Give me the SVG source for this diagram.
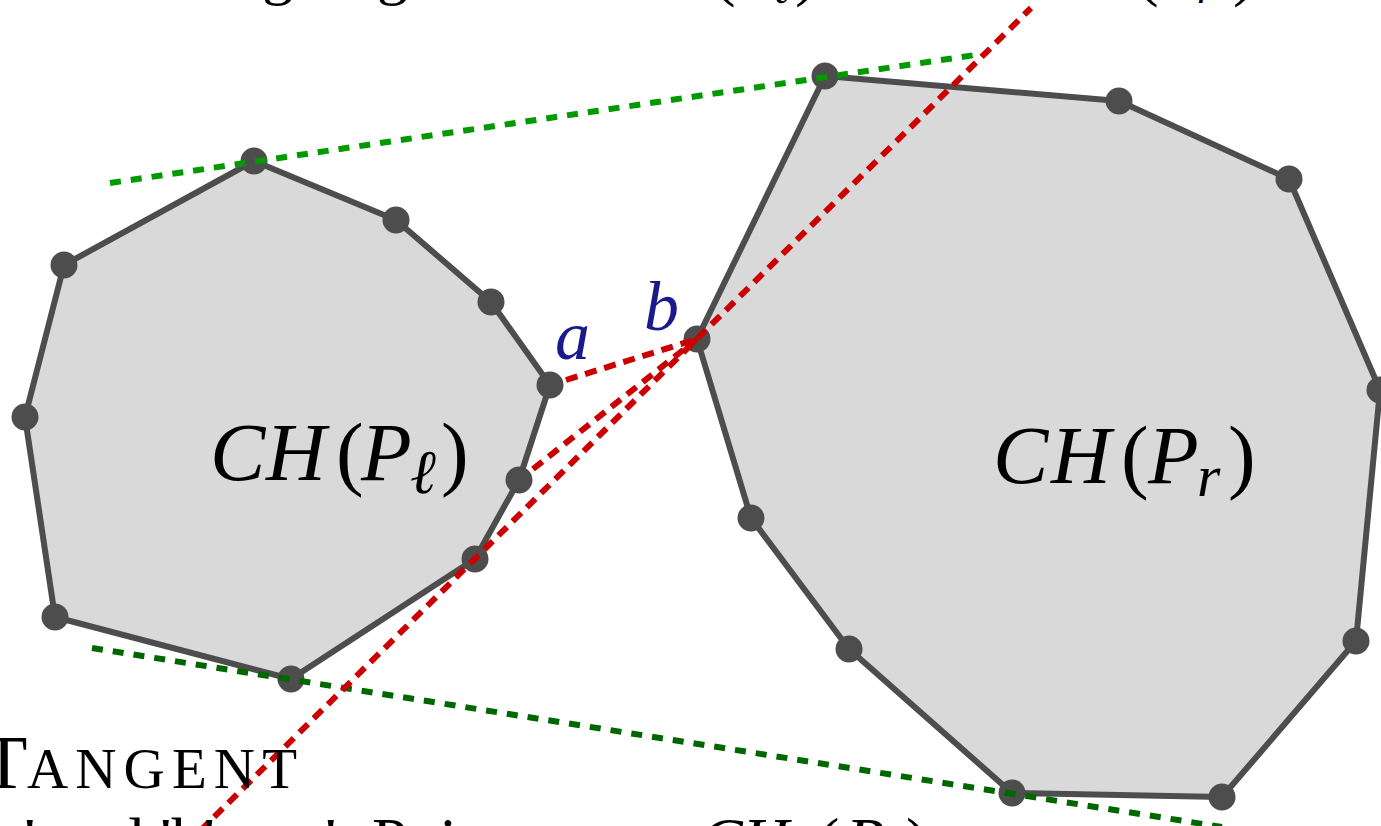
<svg xmlns="http://www.w3.org/2000/svg" width="1381" height="826" viewBox="0 0 1381 826">
<style>
.hull{fill:#d9d9d9;stroke:#4d4d4d;stroke-width:6;stroke-linejoin:round}
.v{fill:#4d4d4d}
.red{fill:none;stroke:#cc0000;stroke-width:6;stroke-dasharray:12 8}
.gu{fill:none;stroke:#009900;stroke-width:6;stroke-dasharray:11 10}
.gl{fill:none;stroke:#006600;stroke-width:6;stroke-dasharray:11 10}
.t{font-family:"Liberation Serif","DejaVu Serif",serif;fill:#000}
.it{font-style:italic}
.lbl{font-family:"Liberation Serif","DejaVu Serif",serif;font-style:italic;font-size:70px;fill:#1a1a8c}
</style>
<rect width="1381" height="826" fill="#ffffff"/>

<g id="title">
<text class="t" y="-7" font-size="62"><tspan x="160">Mergin</tspan><tspan x="377">g</tspan><tspan x="430"> the hulls </tspan><tspan x="627" class="it">CH</tspan><tspan x="713" font-size="68">(</tspan><tspan x="735" class="it">P</tspan><tspan x="772" y="3" font-size="44" class="it">ℓ</tspan><tspan x="795" y="-7" font-size="68">)</tspan><tspan x="850"> and </tspan><tspan x="1050" class="it">CH</tspan><tspan x="1136" font-size="68">(</tspan><tspan x="1158" class="it">P</tspan><tspan x="1197" y="3" font-size="44" class="it">r</tspan><tspan x="1233" y="-7" font-size="68">)</tspan></text>
</g>

<g id="hull-left">
<polygon class="hull" points="254,161 396,220 491,302 550,385 519,480 475,559 291,679 55,617 25,417 64,265"/>
<g class="v">
<circle cx="254" cy="161" r="13.5"/><circle cx="396" cy="220" r="13.5"/><circle cx="491" cy="302" r="13.5"/>
<circle cx="550" cy="385" r="13.5"/><circle cx="519" cy="480" r="13.5"/><circle cx="475" cy="559" r="13.5"/>
<circle cx="291" cy="679" r="13.5"/><circle cx="55" cy="617" r="13.5"/><circle cx="25" cy="417" r="13.5"/>
<circle cx="64" cy="265" r="13.5"/>
</g>
<text class="t" y="480" font-size="83"><tspan x="210" class="it">C</tspan><tspan x="266" class="it">H</tspan><tspan x="336">(</tspan><tspan x="361" class="it">P</tspan><tspan x="410" y="493" font-size="62" class="it">ℓ</tspan><tspan x="441" y="480">)</tspan></text>
</g>

<g id="hull-right">
<polygon class="hull" points="825,76 1119,101 1289,179 1380,390 1356,641 1222,797 1012,793 849,649 751,518 697,339"/>
<g class="v">
<circle cx="825" cy="76" r="13.5"/><circle cx="1119" cy="101" r="13.5"/><circle cx="1289" cy="179" r="13.5"/>
<circle cx="1380" cy="390" r="13.5"/><circle cx="1356" cy="641" r="13.5"/><circle cx="1222" cy="797" r="13.5"/>
<circle cx="1012" cy="793" r="13.5"/><circle cx="849" cy="649" r="13.5"/><circle cx="751" cy="518" r="13.5"/>
<circle cx="697" cy="339" r="13.5"/>
</g>
<text class="t" y="483" font-size="83"><tspan x="993" class="it">C</tspan><tspan x="1051" class="it">H</tspan><tspan x="1121">(</tspan><tspan x="1148" class="it">P</tspan><tspan x="1197" y="496" font-size="60" class="it">r</tspan><tspan x="1228" y="483">)</tspan></text>
</g>

<g id="connectors">
<line class="gu" x1="110" y1="183" x2="975" y2="55"/>
<line class="gl" x1="92" y1="648" x2="1222" y2="827"/>
<line class="red" x1="566" y1="380" x2="697" y2="339"/>
<line class="red" x1="533" y1="469" x2="697" y2="339"/>
<line class="red" x1="200" y1="831" x2="1031" y2="8"/>
</g>

<g id="labels">
<text class="lbl" x="555" y="359">a</text>
<text class="lbl" x="644" y="330">b</text>
</g>

<g id="caption">
<text class="t" y="788"><tspan x="-19" font-size="76">T</tspan><tspan x="27" font-size="57" textLength="270" lengthAdjust="spacing">ANGENT</tspan></text>
<text class="t" y="862" font-size="64"><tspan x="-16">'a' and 'b' are '</tspan><tspan x="372">Pointers on </tspan><tspan x="700" class="it">CH</tspan><tspan x="818">(</tspan><tspan x="846" class="it">P</tspan><tspan x="884" y="873" font-size="46" class="it">ℓ</tspan><tspan x="906" y="862">)</tspan></text>
</g>
</svg>
